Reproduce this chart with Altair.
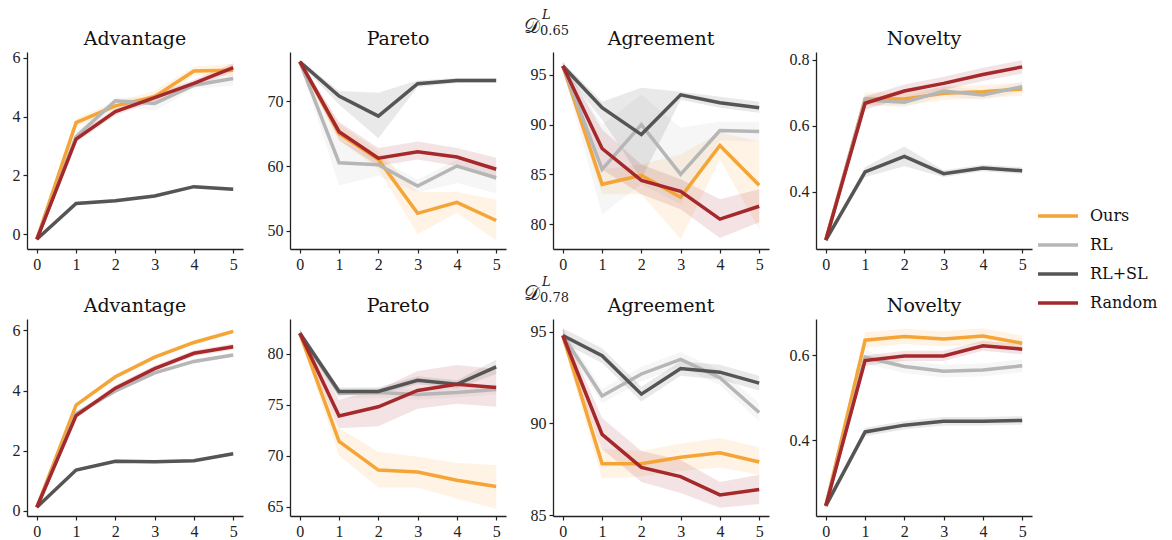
import altair as alt
import pandas as pd

steps = [0, 1, 2, 3, 4, 5]
methods = ["Ours", "RL", "RL+SL", "Random"]
colors = ["#F4A536", "#B6B6B6", "#555555", "#A5282B"]
metric_titles = ["Advantage", "Pareto", "Agreement", "Novelty"]
row_subscripts = ["0.65", "0.78"]

# ---------------- D^L_0.65 ----------------
adv65_mean = {"Ours": [-0.17, 3.80, 4.37, 4.68, 5.55, 5.58],
              "RL": [-0.17, 3.32, 4.54, 4.45, 5.07, 5.30],
              "RL+SL": [-0.17, 1.05, 1.14, 1.30, 1.62, 1.53],
              "Random": [-0.17, 3.24, 4.17, 4.65, 5.13, 5.67]}
adv65_lo = {"Ours": [-0.22, 3.65, 4.25, 4.50, 5.40, 5.38],
            "RL": [-0.22, 3.15, 4.40, 4.20, 4.95, 5.05],
            "RL+SL": [-0.22, 1.00, 1.08, 1.24, 1.56, 1.47],
            "Random": [-0.22, 3.12, 4.05, 4.52, 5.00, 5.52]}
adv65_hi = {"Ours": [-0.12, 3.95, 4.50, 4.88, 5.70, 5.80],
            "RL": [-0.12, 3.50, 4.65, 4.65, 5.20, 5.45],
            "RL+SL": [-0.12, 1.10, 1.20, 1.36, 1.68, 1.59],
            "Random": [-0.12, 3.36, 4.29, 4.78, 5.26, 5.82]}

par65_mean = {"Ours": [76.1, 65.0, 61.0, 52.7, 54.4, 51.6],
              "RL": [76.1, 60.5, 60.2, 56.9, 60.0, 58.2],
              "RL+SL": [76.1, 70.8, 67.7, 72.7, 73.2, 73.2],
              "Random": [76.1, 65.3, 61.2, 62.2, 61.4, 59.5]}
par65_lo = {"Ours": [75.8, 64.0, 59.5, 49.5, 52.8, 48.5],
            "RL": [75.8, 57.0, 58.5, 55.9, 57.4, 55.8],
            "RL+SL": [75.8, 69.5, 64.3, 72.2, 72.8, 72.8],
            "Random": [75.8, 64.0, 60.0, 61.0, 60.0, 57.8]}
par65_hi = {"Ours": [76.4, 66.5, 62.3, 56.0, 56.0, 54.8],
            "RL": [76.4, 64.0, 61.2, 57.9, 61.0, 60.0],
            "RL+SL": [76.4, 71.6, 71.3, 73.2, 73.6, 73.6],
            "Random": [76.4, 66.8, 62.8, 63.8, 62.8, 61.3]}

agr65_mean = {"Ours": [95.9, 84.0, 84.9, 82.7, 87.9, 83.9],
              "RL": [95.9, 85.5, 90.0, 85.0, 89.4, 89.3],
              "RL+SL": [95.9, 91.7, 89.0, 93.0, 92.2, 91.7],
              "Random": [95.9, 87.6, 84.4, 83.3, 80.5, 81.8]}
agr65_lo = {"Ours": [95.5, 83.0, 83.0, 78.5, 86.5, 79.5],
            "RL": [95.5, 81.0, 84.0, 82.0, 88.4, 88.3],
            "RL+SL": [95.5, 90.5, 84.5, 92.5, 91.7, 91.2],
            "Random": [95.5, 85.5, 83.0, 81.5, 78.6, 80.2]}
agr65_hi = {"Ours": [96.3, 85.5, 86.0, 87.0, 89.2, 88.3],
            "RL": [96.3, 90.0, 93.0, 89.7, 90.3, 90.3],
            "RL+SL": [96.3, 92.3, 93.7, 93.3, 92.8, 92.3],
            "Random": [96.3, 89.5, 86.0, 84.5, 82.5, 83.5]}

nov65_mean = {"Ours": [0.254, 0.681, 0.681, 0.698, 0.703, 0.711],
              "RL": [0.254, 0.678, 0.671, 0.705, 0.693, 0.718],
              "RL+SL": [0.254, 0.460, 0.507, 0.455, 0.472, 0.464],
              "Random": [0.254, 0.668, 0.705, 0.728, 0.755, 0.778]}
nov65_lo = {"Ours": [0.249, 0.661, 0.661, 0.678, 0.683, 0.691],
            "RL": [0.249, 0.663, 0.656, 0.690, 0.678, 0.703],
            "RL+SL": [0.249, 0.445, 0.477, 0.445, 0.462, 0.454],
            "Random": [0.249, 0.648, 0.685, 0.708, 0.735, 0.758]}
nov65_hi = {"Ours": [0.259, 0.701, 0.701, 0.718, 0.723, 0.731],
            "RL": [0.259, 0.693, 0.686, 0.720, 0.708, 0.733],
            "RL+SL": [0.259, 0.475, 0.537, 0.465, 0.482, 0.474],
            "Random": [0.259, 0.688, 0.725, 0.748, 0.775, 0.798]}

# ---------------- D^L_0.78 ----------------
adv78_mean = {"Ours": [0.12, 3.52, 4.46, 5.11, 5.60, 5.97],
              "RL": [0.12, 3.23, 3.99, 4.59, 4.97, 5.18],
              "RL+SL": [0.12, 1.36, 1.65, 1.63, 1.67, 1.90],
              "Random": [0.12, 3.17, 4.08, 4.73, 5.24, 5.46]}
adv78_lo = {"Ours": [0.07, 3.45, 4.39, 5.04, 5.53, 5.90],
            "RL": [0.07, 3.16, 3.92, 4.52, 4.90, 5.11],
            "RL+SL": [0.07, 1.31, 1.60, 1.58, 1.62, 1.85],
            "Random": [0.07, 3.07, 3.98, 4.63, 5.14, 5.36]}
adv78_hi = {"Ours": [0.17, 3.59, 4.53, 5.18, 5.67, 6.04],
            "RL": [0.17, 3.30, 4.06, 4.66, 5.04, 5.25],
            "RL+SL": [0.17, 1.41, 1.70, 1.68, 1.72, 1.95],
            "Random": [0.17, 3.27, 4.18, 4.83, 5.34, 5.56]}

par78_mean = {"Ours": [82.0, 71.4, 68.6, 68.4, 67.6, 67.0],
              "RL": [82.0, 76.1, 76.2, 76.0, 76.2, 76.5],
              "RL+SL": [82.0, 76.3, 76.3, 77.4, 77.0, 78.7],
              "Random": [82.0, 73.9, 74.8, 76.4, 77.0, 76.7]}
par78_lo = {"Ours": [81.6, 70.0, 66.9, 66.9, 65.8, 64.8],
            "RL": [81.6, 75.6, 75.7, 75.5, 75.7, 76.0],
            "RL+SL": [81.6, 76.0, 76.0, 77.0, 76.6, 78.0],
            "Random": [81.6, 72.7, 72.9, 74.6, 75.1, 74.8]}
par78_hi = {"Ours": [82.4, 72.7, 70.4, 69.9, 69.3, 69.1],
            "RL": [82.4, 76.6, 76.7, 76.5, 76.7, 77.0],
            "RL+SL": [82.4, 76.7, 76.7, 77.8, 77.4, 79.4],
            "Random": [82.4, 75.5, 76.5, 78.3, 78.9, 78.5]}

agr78_mean = {"Ours": [94.8, 87.8, 87.8, 88.15, 88.4, 87.9],
              "RL": [94.8, 91.5, 92.7, 93.5, 92.5, 90.6],
              "RL+SL": [94.8, 93.7, 91.6, 93.0, 92.8, 92.2],
              "Random": [94.8, 89.4, 87.6, 87.1, 86.1, 86.4]}
agr78_lo = {"Ours": [94.4, 87.0, 87.1, 87.4, 87.6, 87.2],
            "RL": [94.4, 91.1, 92.3, 93.1, 92.1, 90.1],
            "RL+SL": [94.4, 93.3, 91.2, 92.6, 92.4, 91.8],
            "Random": [94.4, 88.6, 86.8, 86.2, 85.4, 85.6]}
agr78_hi = {"Ours": [95.2, 88.6, 88.5, 88.9, 89.2, 88.7],
            "RL": [95.2, 91.9, 93.1, 93.9, 92.9, 91.1],
            "RL+SL": [95.2, 94.1, 92.0, 93.4, 93.2, 92.6],
            "Random": [95.2, 90.3, 88.5, 88.0, 86.8, 87.2]}

nov78_mean = {"Ours": [0.245, 0.635, 0.644, 0.638, 0.645, 0.628],
              "RL": [0.245, 0.595, 0.573, 0.562, 0.565, 0.575],
              "RL+SL": [0.245, 0.419, 0.435, 0.444, 0.444, 0.446],
              "Random": [0.245, 0.587, 0.598, 0.598, 0.622, 0.614]}
nov78_lo = {"Ours": [0.240, 0.617, 0.626, 0.620, 0.627, 0.610],
            "RL": [0.240, 0.580, 0.558, 0.547, 0.550, 0.560],
            "RL+SL": [0.240, 0.409, 0.425, 0.434, 0.434, 0.436],
            "Random": [0.240, 0.575, 0.586, 0.586, 0.610, 0.602]}
nov78_hi = {"Ours": [0.250, 0.653, 0.662, 0.656, 0.663, 0.646],
            "RL": [0.250, 0.610, 0.588, 0.577, 0.580, 0.590],
            "RL+SL": [0.250, 0.429, 0.445, 0.454, 0.454, 0.456],
            "Random": [0.250, 0.599, 0.610, 0.610, 0.634, 0.626]}

# y-axis domains and ticks per panel
y_domains = [[[-0.5, 6.2], [47.2, 77.6], [77.5, 97.3], [0.227, 0.823]],
             [[-0.17, 6.38], [64.1, 83.4], [84.95, 95.7], [0.221, 0.685]]]
y_ticks = [[[0, 2, 4, 6], [50, 60, 70], [80, 85, 90, 95], [0.4, 0.6, 0.8]],
           [[0, 2, 4, 6], [65, 70, 75, 80], [85, 90, 95], [0.4, 0.6]]]
y_formats = ["d", "d", "d", ".1f"]

panel_data = [[(adv65_mean, adv65_lo, adv65_hi), (par65_mean, par65_lo, par65_hi),
               (agr65_mean, agr65_lo, agr65_hi), (nov65_mean, nov65_lo, nov65_hi)],
              [(adv78_mean, adv78_lo, adv78_hi), (par78_mean, par78_lo, par78_hi),
               (agr78_mean, agr78_lo, agr78_hi), (nov78_mean, nov78_lo, nov78_hi)]]

PW, PH = 216, 197
SERIF = "DejaVu Serif"
TICKFONT = "Liberation Serif"

# line colours (with legend) and band fills (same colours, listed in reverse order
# so that the band scale stays separate from the legend's scale)
color_scale = alt.Scale(domain=methods, range=colors)
fill_scale = alt.Scale(domain=methods[::-1], range=colors[::-1])
legend = alt.Legend(
    orient="right", offset=4, padding=0, title=" ", titleFontSize=2, titlePadding=153,
    symbolType="stroke", symbolSize=1600, symbolStrokeWidth=3.5, clipHeight=18,
    labelFont=SERIF, labelFontSize=16, labelColor="#111", labelOffset=10, rowPadding=11,
)


def make_panel(r, c):
    mean, lo, hi = panel_data[r][c]
    rows = []
    for m in methods:
        for i, s in enumerate(steps):
            rows.append({"step": s, "method": m, "mean": mean[m][i], "lo": lo[m][i], "hi": hi[m][i]})
    df = pd.DataFrame(rows)
    xenc = alt.X("step:Q", scale=alt.Scale(domain=[-0.25, 5.25], nice=False, zero=False),
                 axis=alt.Axis(values=steps, format="d", title=None))
    yscale = alt.Scale(domain=y_domains[r][c], nice=False, zero=False)
    yaxis = alt.Axis(values=y_ticks[r][c], format=y_formats[c], title=None)
    base = alt.Chart(df)
    band = base.mark_area(opacity=0.13).encode(
        x=xenc,
        y=alt.Y("lo:Q", scale=yscale, axis=yaxis),
        y2="hi:Q",
        fill=alt.Fill("method:N", scale=fill_scale, legend=None),
    )
    line = base.mark_line(strokeWidth=3.5, strokeJoin="miter").encode(
        x=xenc,
        y=alt.Y("mean:Q", scale=yscale, axis=yaxis),
        color=alt.Color("method:N", scale=color_scale, legend=legend),
    )
    tdf = pd.DataFrame({"title": [metric_titles[c]], "D": ["\U0001D49F"], "L": ["L"],
                        "sub": [row_subscripts[r]]})
    tb = alt.Chart(tdf)
    title = tb.mark_text(font=SERIF, fontSize=19, align="center", baseline="alphabetic",
                         color="#111").encode(text="title:N", x=alt.value(PW / 2), y=alt.value(-7))
    layers = [band, line, title]
    if c == 2:
        layers.append(tb.mark_text(font="DejaVu Serif", fontSize=20, align="left", baseline="alphabetic",
                                   color="#222").encode(text="D:N", x=alt.value(-29), y=alt.value(-19)))
        layers.append(tb.mark_text(font="DejaVu Serif", fontSize=13, fontStyle="italic", align="left",
                                   baseline="alphabetic", color="#222").encode(text="L:N", x=alt.value(-11), y=alt.value(-33)))
        layers.append(tb.mark_text(font="DejaVu Serif", fontSize=13, align="left", baseline="alphabetic",
                                   color="#222").encode(text="sub:N", x=alt.value(-13), y=alt.value(-17)))
    return alt.layer(*layers).properties(width=PW, height=PH)


panels = [make_panel(r, c) for r in range(2) for c in range(4)]

chart = alt.concat(*panels, columns=4, spacing={"row": 70, "column": 47}, bounds="flush").resolve_scale(
    color="shared", fill="shared"
).resolve_legend(color="shared", fill="shared").properties(
    padding={"left": 4, "top": 1, "right": 0, "bottom": 0}
).configure_view(stroke=None).configure_axis(
    grid=False, domainColor="#222", domainWidth=1.3, tickColor="#222", tickSize=4, tickWidth=1.2,
    labelFont=TICKFONT, labelFontSize=16, labelColor="#222", labelPadding=3,
)

chart.save("out.html", embed_options={"renderer": "svg", "actions": False})
